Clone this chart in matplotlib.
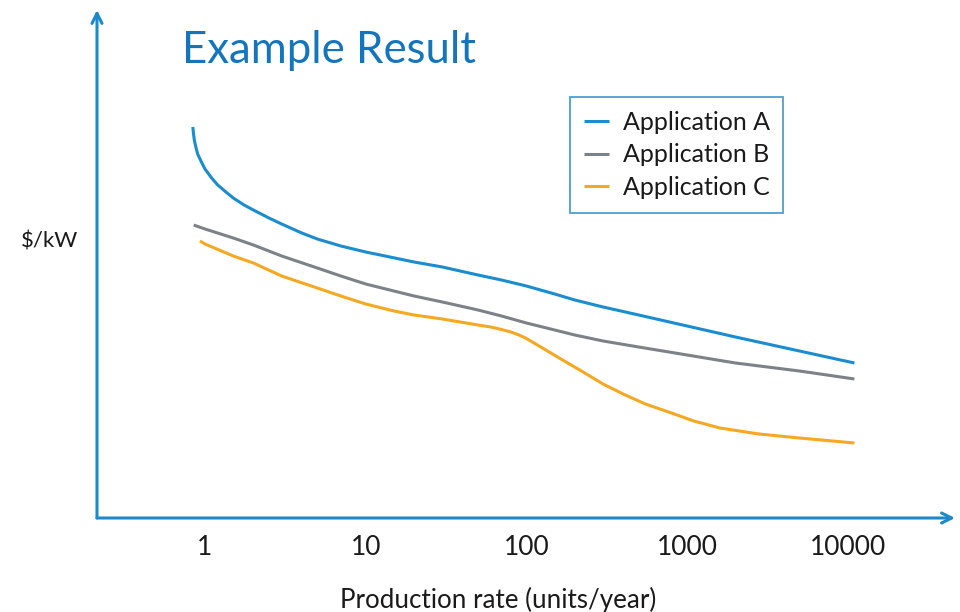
import matplotlib
matplotlib.use("Agg")
import matplotlib.pyplot as plt

# values (y is in arbitrary $/kW units)
x_a = [0.84, 0.85, 0.86, 0.88, 0.9, 0.95, 1, 1.1, 1.2, 1.35, 1.5, 1.75, 2, 2.5, 3, 4, 5, 7, 10, 20, 30,
       50, 70, 100, 150, 200, 300, 500, 1000, 2000, 5000, 11000]
y_a = [391, 383, 377, 370, 364, 356, 349, 340, 333, 326, 320, 313, 308, 300, 294, 285, 279, 272, 266,
       256, 251, 243, 238, 232, 224, 218, 211, 203, 192, 181, 167, 155]

x_b = [0.85, 1, 1.5, 2, 3, 5, 7, 10, 20, 30, 50, 70, 100, 150, 200, 300, 500, 1000, 2000, 5000, 11000]
y_b = [293, 289, 280, 273, 262, 250, 242, 234, 222, 216, 208, 202, 195, 188, 183, 177, 171, 163, 155,
       147, 139]

x_c = [0.93, 1, 1.5, 2, 3, 5, 7, 10, 15, 20, 30, 50, 60, 70, 80, 90, 100, 120, 160, 220, 300, 400, 550,
       800, 1100, 1600, 2800, 5000, 11000]
y_c = [277, 274, 262, 255, 242, 230, 222, 214, 207, 203, 199, 193, 191, 188.5, 186, 183, 179.5, 172,
       160, 147, 134, 124, 114, 105, 97, 90, 84, 80, 75]

tick_vals = [1, 10, 100, 1000, 10000]
tick_labels = ["1", "10", "100", "1000", "10000"]
series_names = ["Application A", "Application B", "Application C"]

blue = "#1a8dd0"
gray = "#7d8288"
orange = "#f6a821"
axis_col = "#1c89cb"
title_col = "#1275bd"
font = "Lato"

plt.rcParams["font.family"] = [font, "DejaVu Sans"]

W, H = 960, 612
fig = plt.figure(figsize=(W / 100, H / 100), dpi=100)
# axes box: left 97px, right 955px, top 10px, bottom 518px
ax = fig.add_axes([97 / W, (H - 518) / H, (955 - 97) / W, (518 - 10) / H])

ax.plot(x_a, y_a, color=blue, lw=2.2, label=series_names[0], solid_capstyle="butt")
ax.plot(x_b, y_b, color=gray, lw=2.2, label=series_names[1], solid_capstyle="butt")
ax.plot(x_c, y_c, color=orange, lw=2.2, label=series_names[2], solid_capstyle="butt")

ax.set_xscale("log")
ax.set_xlim(10 ** ((97 - 205) / 160.7), 10 ** ((955 - 205) / 160.7))
ax.set_ylim(0, 508)
ax.minorticks_off()
ax.set_xticks(tick_vals)
ax.set_xticklabels(tick_labels, fontsize=19, color="#1a1a1a")
ax.set_yticks([])
ax.tick_params(axis="x", length=0, pad=12)
for s in ax.spines.values():
    s.set_visible(False)

# axis arrows
arrow = dict(arrowstyle="->", lw=2.2, color=axis_col, mutation_scale=18, shrinkA=0, shrinkB=0)
ax.annotate("", xy=(0, 1), xytext=(0, 0), xycoords="axes fraction", arrowprops=arrow)
ax.annotate("", xy=(1, 0), xytext=(0, 0), xycoords="axes fraction", arrowprops=arrow)

leg = ax.legend(loc="upper left", bbox_to_anchor=((570 - 97) / 858, (518 - 97) / 508),
                borderaxespad=0, fancybox=False, fontsize=18, handlelength=1.0,
                handletextpad=0.55, labelspacing=0.38, borderpad=0.55)
leg.get_frame().set_edgecolor(axis_col)
leg.get_frame().set_linewidth(1.3)
for t in leg.get_texts():
    t.set_color("#1a1a1a")

fig.text(182 / W, (H - 63) / H, "Example Result", fontsize=31.5, color=title_col,
         ha="left", va="baseline")
fig.text(50 / W, (H - 241) / H, "$/kW", fontsize=16, color="#1a1a1a", ha="center", va="center")
fig.text(498 / W, (H - 600) / H, "Production rate (units/year)", fontsize=18.7,
         color="#1a1a1a", ha="center", va="center")

fig.savefig("out.png", dpi=100, facecolor="white")
